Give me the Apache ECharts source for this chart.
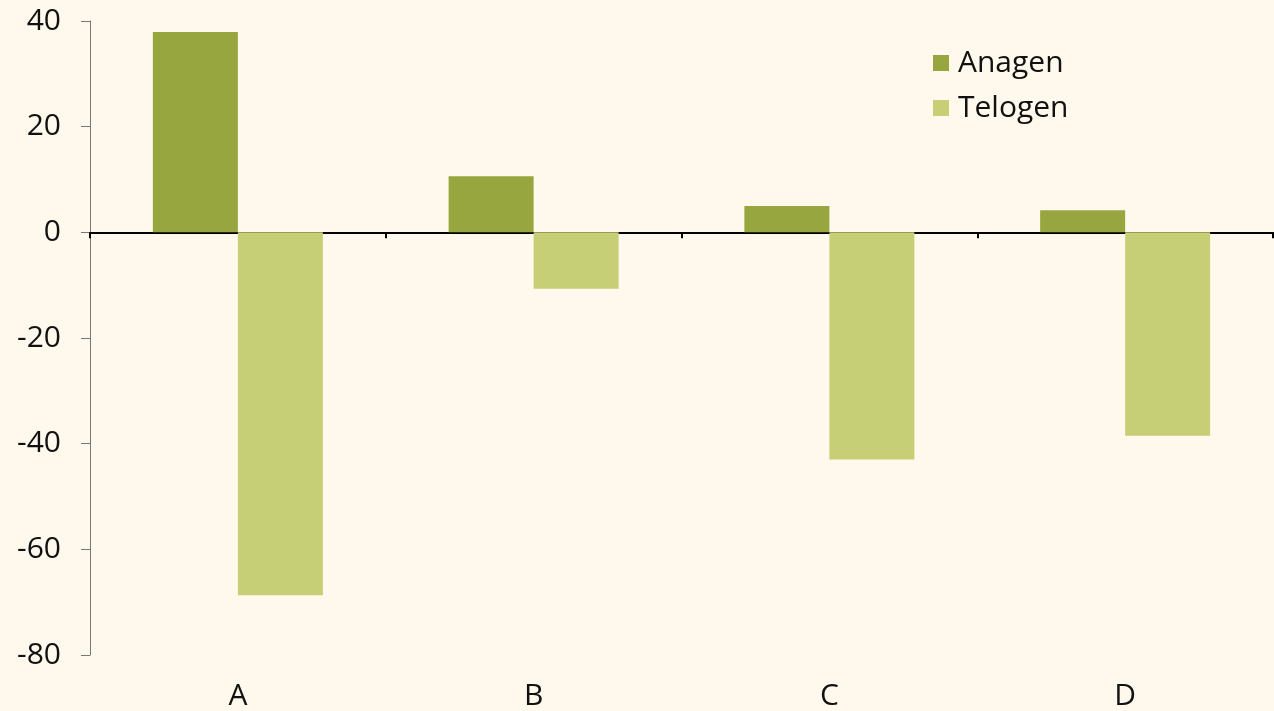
<!DOCTYPE html>
<html>
<head>
<meta charset="utf-8">
<script src="https://cdn.jsdelivr.net/npm/echarts@6/dist/echarts.min.js"></script>
<style>
  html, body { margin: 0; padding: 0; background: #fef9ec; }
  #main { width: 1274px; height: 711px; }
</style>
</head>
<body>
<div id="main"></div>
<script>
// data
const categories = ['A', 'B', 'C', 'D'];
const anagen = [37.9, 10.6, 5.0, 4.2];
const telogen = [-68.7, -10.7, -43.0, -38.5];
const yTicks = { min: -80, max: 40, step: 20 };

const font = '"Open Sans", "Noto Sans", sans-serif';
const myChart = echarts.init(document.getElementById('main'));

const option = {
    backgroundColor: '#fef9ec',
    animation: false,
    textStyle: { fontFamily: font },
    grid: { left: 90, right: 1, top: 21, bottom: 55, containLabel: false },
    legend: {
        orient: 'vertical',
        left: 933,
        top: 48,
        padding: 0,
        itemWidth: 16,
        itemHeight: 16,
        itemGap: 15,
        icon: 'rect',
        textStyle: { fontSize: 30, color: '#111', fontFamily: font, padding: [0, 0, 0, 4] },
        data: ['Anagen', 'Telogen']
    },
    xAxis: [
        {
            // axis line through zero, no labels
            type: 'category',
            data: categories,
            axisLine: { onZero: true, lineStyle: { color: '#000', width: 2 } },
            axisTick: { show: true, length: 6, lineStyle: { color: '#000', width: 2 } },
            axisLabel: { show: false },
            splitLine: { show: false }
        },
        {
            // labels along the bottom
            type: 'category',
            data: categories,
            position: 'bottom',
            axisLine: { show: false, onZero: false },
            axisTick: { show: false },
            axisLabel: { margin: 26, fontSize: 30, color: '#111', fontFamily: font },
            splitLine: { show: false }
        }
    ],
    yAxis: {
        type: 'value',
        min: yTicks.min,
        max: yTicks.max,
        interval: yTicks.step,
        axisLine: { show: true, lineStyle: { color: '#777', width: 1 } },
        axisTick: { show: true, length: 9, lineStyle: { color: '#777', width: 1 } },
        axisLabel: { margin: 29, fontSize: 30, color: '#111', fontFamily: font },
        splitLine: { show: false }
    },
    series: [
        {
            name: 'Anagen',
            type: 'bar',
            data: anagen,
            barWidth: 85,
            barGap: '0%',
            itemStyle: { color: '#98a63f' }
        },
        {
            name: 'Telogen',
            type: 'bar',
            data: telogen,
            barWidth: 85,
            barGap: '0%',
            itemStyle: { color: '#c6ce76' }
        }
    ]
};

myChart.setOption(option);
</script>
</body>
</html>
